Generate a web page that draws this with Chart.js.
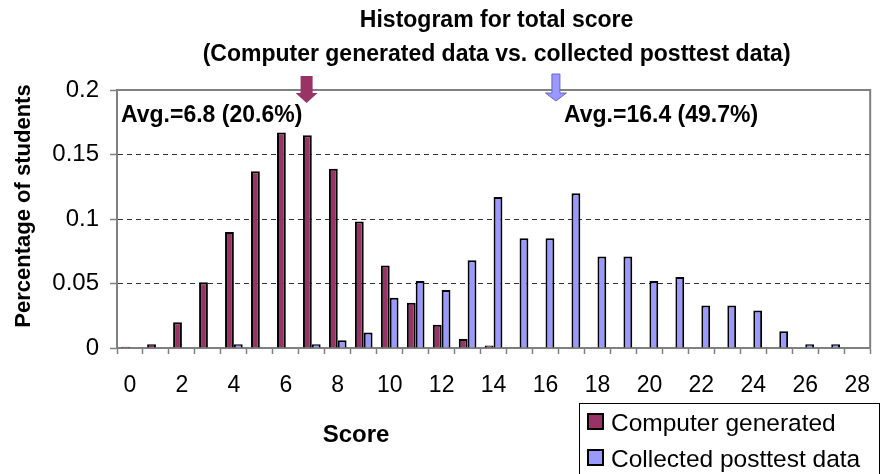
<!DOCTYPE html>
<html>
<head>
<meta charset="utf-8">
<title>Histogram for total score</title>
<script src="https://cdn.jsdelivr.net/npm/chart.js@4"></script>
<style>
    body { margin: 0; background: #fff; }
    #chart-wrap { width: 888px; height: 474px; }
</style>
</head>
<body>
<div id="chart-wrap"><canvas id="histChart" width="888" height="474"></canvas></div>
<script>
// scores 0..28 and share of students at each score
const scores = [0, 1, 2, 3, 4, 5, 6, 7, 8, 9, 10, 11, 12, 13, 14, 15, 16, 17, 18, 19, 20, 21, 22, 23, 24, 25, 26, 27, 28];
const computerGenerated = [0.001, 0.003, 0.02, 0.051, 0.09, 0.137, 0.167, 0.165, 0.139, 0.098, 0.064, 0.035, 0.018, 0.007, 0.002, 0.0005, 0, 0, 0, 0, 0, 0, 0, 0, 0, 0, 0, 0, 0];
const collectedPosttest = [0, 0, 0, 0, 0.003, 0, 0, 0.003, 0.006, 0.012, 0.039, 0.052, 0.045, 0.068, 0.117, 0.085, 0.085, 0.12, 0.071, 0.071, 0.052, 0.055, 0.033, 0.033, 0.029, 0.013, 0.003, 0.003, 0];
const yTicks = [0, 0.05, 0.1, 0.15, 0.2];

// averages marked with arrows above the plot
const avgComputer = 6.8, avgComputerPct = 20.6;
const avgCollected = 16.4, avgCollectedPct = 49.7;

const MAROON = '#993366';
const LAVENDER = '#9999FF';
const FONT = '"Liberation Sans", Arial, sans-serif';

Chart.defaults.font.family = FONT;
Chart.defaults.color = '#000';

function drawArrow(ctx, cx, top, shaftBottom, tip, shaftW, headW, fill, stroke) {
    ctx.save();
    ctx.beginPath();
    ctx.moveTo(cx - shaftW / 2, top);
    ctx.lineTo(cx + shaftW / 2, top);
    ctx.lineTo(cx + shaftW / 2, shaftBottom);
    ctx.lineTo(cx + headW / 2, shaftBottom);
    ctx.lineTo(cx, tip);
    ctx.lineTo(cx - headW / 2, shaftBottom);
    ctx.lineTo(cx - shaftW / 2, shaftBottom);
    ctx.closePath();
    ctx.fillStyle = fill;
    ctx.fill();
    if (stroke) {
        ctx.strokeStyle = stroke;
        ctx.lineWidth = 1;
        ctx.stroke();
    }
    ctx.restore();
}

// title, plot frame, average arrows, axis titles and the boxed legend
const decorations = {
    id: 'decorations',
    afterDatasetsDraw(chart) {
        const { ctx, chartArea: a, scales: { x } } = chart;
        const step = x.getPixelForValue(1) - x.getPixelForValue(0);
        const scoreX = v => x.getPixelForValue(0) + v * step;

        // frame top and right
        ctx.save();
        ctx.strokeStyle = '#808080';
        ctx.lineWidth = 2;
        ctx.beginPath();
        ctx.moveTo(a.left, a.top);
        ctx.lineTo(a.right, a.top);
        ctx.lineTo(a.right, a.bottom);
        ctx.stroke();
        ctx.restore();

        ctx.save();
        ctx.fillStyle = '#000';
        ctx.textAlign = 'center';
        ctx.textBaseline = 'alphabetic';
        ctx.font = 'bold 23px ' + FONT;
        const mid = (a.left + a.right) / 2 + 3;
        ctx.fillText('Histogram for total score', mid, 27);
        ctx.fillText('(Computer generated data vs. collected posttest data)', mid, 61);

        // average labels
        ctx.textAlign = 'left';
        ctx.fillText(`Avg.=${avgComputer} (${avgComputerPct}%)`, 121, 122);
        ctx.fillText(`Avg.=${avgCollected} (${avgCollectedPct}%)`, 564, 122);

        // x axis title
        ctx.textAlign = 'center';
        ctx.font = 'bold 24px ' + FONT;
        ctx.fillText('Score', 356, 442);

        // y axis title
        ctx.save();
        ctx.translate(30, 206);
        ctx.rotate(-Math.PI / 2);
        ctx.font = 'bold 22px ' + FONT;
        ctx.fillText('Percentage of students', 0, 0);
        ctx.restore();
        ctx.restore();

        drawArrow(ctx, scoreX(avgComputer), 76, 93, 103, 12, 22, MAROON, null);
        drawArrow(ctx, scoreX(avgCollected), 74, 93, 101, 8, 21, LAVENDER, '#6666CC');

        // legend
        ctx.save();
        ctx.strokeStyle = '#000';
        ctx.lineWidth = 1;
        ctx.fillStyle = '#fff';
        ctx.fillRect(579, 403, 300, 80);
        ctx.strokeRect(579.5, 403.5, 300, 80);
        const items = [
            { label: 'Computer generated', color: MAROON, y: 422 },
            { label: 'Collected posttest data', color: LAVENDER, y: 458 }
        ];
        ctx.font = '24.5px ' + FONT;
        ctx.textAlign = 'left';
        ctx.textBaseline = 'alphabetic';
        items.forEach(it => {
            ctx.fillStyle = it.color;
            ctx.fillRect(588, it.y - 8, 15, 15);
            ctx.lineWidth = 2;
            ctx.strokeStyle = '#000';
            ctx.strokeRect(588, it.y - 8, 15, 15);
            ctx.fillStyle = '#000';
            ctx.fillText(it.label, 611, it.y + 9);
        });
        ctx.restore();
    }
};

const ctx = document.getElementById('histChart').getContext('2d');
new Chart(ctx, {
    type: 'bar',
    data: {
        labels: scores,
        datasets: [
            {
                label: 'Computer generated',
                data: computerGenerated,
                backgroundColor: MAROON,
                borderColor: '#000',
                borderWidth: 2,
                categoryPercentage: 0.68,
                barPercentage: 1
            },
            {
                label: 'Collected posttest data',
                data: collectedPosttest,
                backgroundColor: LAVENDER,
                borderColor: '#000',
                borderWidth: 2,
                categoryPercentage: 0.68,
                barPercentage: 1
            }
        ]
    },
    options: {
        responsive: false,
        animation: false,
        layout: { padding: { top: 90, right: 1, left: 0, bottom: 0 } },
        plugins: {
            legend: { display: false },
            title: { display: false },
            tooltip: { enabled: false }
        },
        scales: {
            x: {
                afterFit: s => { s.height = 126; },
                grid: {
                    offset: true,
                    drawOnChartArea: false,
                    drawTicks: true,
                    tickLength: 6,
                    tickColor: '#808080',
                    tickWidth: 1.5
                },
                border: { display: true, color: '#808080', width: 2 },
                ticks: {
                    autoSkip: false,
                    maxRotation: 0,
                    padding: 18,
                    font: { size: 23 },
                    callback: (v, i) => (i % 2 === 0 ? String(scores[i]) : '')
                }
            },
            y: {
                min: 0,
                max: 0.2,
                afterFit: s => { s.width = 117; },
                afterBuildTicks: s => { s.ticks = yTicks.map(v => ({ value: v })); },
                grid: {
                    color: c => (c.tick && (c.tick.value === 0 || c.tick.value === 0.2) ? 'rgba(0,0,0,0)' : '#333'),
                    lineWidth: 1,
                    drawTicks: true,
                    tickLength: 7,
                    tickColor: '#808080',
                    tickWidth: 1.5
                },
                border: { display: true, color: '#808080', width: 2, dash: [5, 4] },
                ticks: {
                    padding: 11,
                    font: { size: 24 },
                    callback: v => String(v)
                }
            }
        }
    },
    plugins: [decorations]
});
</script>
</body>
</html>
